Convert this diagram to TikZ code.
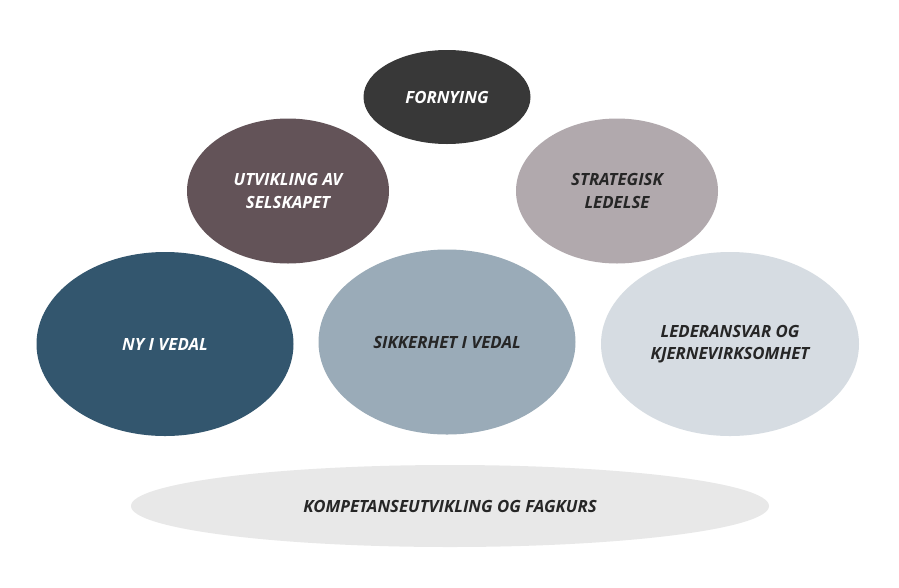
\documentclass[tikz,border=0pt]{standalone}
\usepackage{fontspec}
\setmainfont{Open Sans}
\usetikzlibrary{shapes.geometric}
\definecolor{cFor}{HTML}{383838}
\definecolor{cUtv}{HTML}{635358}
\definecolor{cStr}{HTML}{B1A9AD}
\definecolor{cNy}{HTML}{33566E}
\definecolor{cSik}{HTML}{9AABB8}
\definecolor{cLed}{HTML}{D6DCE2}
\definecolor{cKom}{HTML}{E8E8E8}
\definecolor{cTxt}{HTML}{262626}
\tikzset{
  bubble/.style={ellipse, inner sep=0pt, draw=none, align=center,
    font=\fontsize{16.8}{22.5}\selectfont\bfseries\itshape},
  light/.style={text=cTxt},
  dark/.style={text=white}
}
\begin{document}
\begin{tikzpicture}[x=1pt,y=-1pt]
\useasboundingbox[fill=white] (0,0) rectangle (899,587);
\node[bubble, dark, fill=cFor, minimum width=167pt, minimum height=94pt] (for) at (447,97) {FORNYING};
\node[bubble, dark, fill=cUtv, minimum width=202pt, minimum height=145pt] (utv) at (288,191) {UTVIKLING AV\\SELSKAPET};
\node[bubble, light, fill=cStr, minimum width=202pt, minimum height=145pt] (str) at (617,191) {STRATEGISK\\LEDELSE};
\node[bubble, dark, fill=cNy, minimum width=257pt, minimum height=184pt] (ny) at (165,344) {NY I VEDAL};
\node[bubble, light, fill=cSik, minimum width=257pt, minimum height=185pt] (sik) at (447,342) {SIKKERHET I VEDAL};
\node[bubble, light, fill=cLed, minimum width=258pt, minimum height=184pt] (led) at (730,344) {LEDERANSVAR OG\\KJERNEVIRKSOMHET};
\node[bubble, light, fill=cKom, minimum width=638pt, minimum height=82pt] (kom) at (450,506) {KOMPETANSEUTVIKLING OG FAGKURS};
\end{tikzpicture}
\end{document}
